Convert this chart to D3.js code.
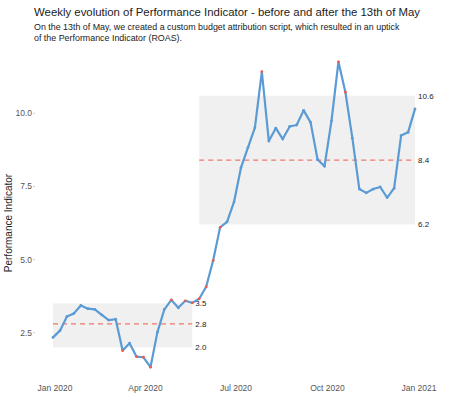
<!DOCTYPE html>
<html>
<head>
<meta charset="utf-8">
<script src="https://cdn.jsdelivr.net/npm/d3@7"></script>
<style>
  body { margin: 0; background: #fff; font-family: "Liberation Sans", Arial, sans-serif; }
</style>
</head>
<body>
<script>
// weekly values, Mondays starting 2019-12-30
const startDate = '2019-12-30'
const values = [2.34, 2.57, 3.05, 3.16, 3.43, 3.32, 3.30, 3.11, 2.93, 2.96, 1.89, 2.14,
    1.68, 1.66, 1.32, 2.52, 3.30, 3.62, 3.35, 3.59, 3.52, 3.66, 4.07, 4.97, 6.10, 6.29,
    6.97, 8.14, 8.83, 9.51, 11.42, 9.05, 9.49, 9.12, 9.55, 9.60, 10.10, 9.69, 8.42, 8.19,
    9.74, 11.76, 10.72, 9.15, 7.41, 7.28, 7.41, 7.48, 7.12, 7.44, 9.24, 9.35, 10.15]

// periods
const periodNames = ['before', 'after']
const periodRanges = [[0, 20], [21, 52]]
const bandLow = [2.0, 6.2]
const bandMean = [2.8, 8.4]
const bandHigh = [3.5, 10.6]

const yTicks = [2.5, 5.0, 7.5, 10.0]
const xTicks = ['2020-01-01', '2020-04-01', '2020-07-01', '2020-10-01', '2021-01-01']
const xTickLabels = ['Jan 2020', 'Apr 2020', 'Jul 2020', 'Oct 2020', 'Jan 2021']

const parse = d3.utcParse('%Y-%m-%d')
const t0 = parse(startDate)
const data = values.map((v, i) => ({ date: d3.utcDay.offset(t0, i * 7), value: v, i }))

const W = 451, H = 410
const svg = d3.select('body').append('svg').attr('width', W).attr('height', H)

const x = d3.scaleUtc().domain([parse('2020-01-01'), parse('2021-01-01')]).range([55, 419])
const y = d3.scaleLinear().domain([2.5, 10]).range([332.7, 113.3])

// titles
svg.append('text').attr('x', 34).attr('y', 16).attr('font-size', 11.4).attr('fill', '#222')
    .text('Weekly evolution of Performance Indicator - before and after the 13th of May')
const sub = ['On the 13th of May, we created a custom budget attribution script, which resulted in an uptick',
    'of the Performance Indicator (ROAS).']
sub.forEach((s, k) => svg.append('text').attr('x', 34).attr('y', 30 + k * 10.5)
    .attr('font-size', 8.9).attr('fill', '#222').text(s))

// axis label
svg.append('text').attr('transform', `translate(12, ${y(6.25)}) rotate(-90)`)
    .attr('text-anchor', 'middle').attr('font-size', 10).attr('fill', '#222')
    .text('Performance Indicator')

// y ticks
yTicks.forEach(t => {
    svg.append('text').attr('x', 32).attr('y', y(t) + 3).attr('text-anchor', 'end')
        .attr('font-size', 8.5).attr('fill', '#555').text(t.toFixed(1))
    svg.append('line').attr('x1', 33).attr('x2', 35).attr('y1', y(t)).attr('y2', y(t))
        .attr('stroke', '#ccc')
})
xTicks.forEach((t, k) => {
    svg.append('text').attr('x', x(parse(t))).attr('y', 391).attr('text-anchor', 'middle')
        .attr('font-size', 8.5).attr('fill', '#555').text(xTickLabels[k])
})

// bands
periodNames.forEach((p, k) => {
    const [a, b] = periodRanges[k]
    const x0 = x(data[a].date), x1 = x(data[b].date)
    svg.append('rect').attr('x', x0).attr('width', x1 - x0)
        .attr('y', y(bandHigh[k])).attr('height', y(bandLow[k]) - y(bandHigh[k]))
        .attr('fill', '#f0f0f0')
    svg.append('line').attr('x1', x0).attr('x2', x1)
        .attr('y1', y(bandMean[k])).attr('y2', y(bandMean[k]))
        .attr('stroke', '#f0776a').attr('stroke-width', 1.2).attr('stroke-dasharray', '5,4')
    ;[bandHigh[k], bandMean[k], bandLow[k]].forEach(v => {
        svg.append('text').attr('x', x1 + 3).attr('y', y(v) + 3)
            .attr('font-size', 8).attr('fill', '#222').text(v.toFixed(1))
    })
})

// line
const line = d3.line().x(d => x(d.date)).y(d => y(d.value))
svg.append('path').datum(data).attr('d', line).attr('fill', 'none')
    .attr('stroke', '#5b9bd5').attr('stroke-width', 2.2).attr('stroke-linejoin', 'round')

const isOut = d => {
    const k = d.i <= periodRanges[0][1] ? 0 : 1
    return d.value < bandLow[k] || d.value > bandHigh[k]
}
svg.selectAll('circle').data(data).join('circle')
    .attr('cx', d => x(d.date)).attr('cy', d => y(d.value)).attr('r', 1.4)
    .attr('fill', d => isOut(d) ? '#ef5a4f' : '#5b9bd5')
</script>
</body>
</html>
